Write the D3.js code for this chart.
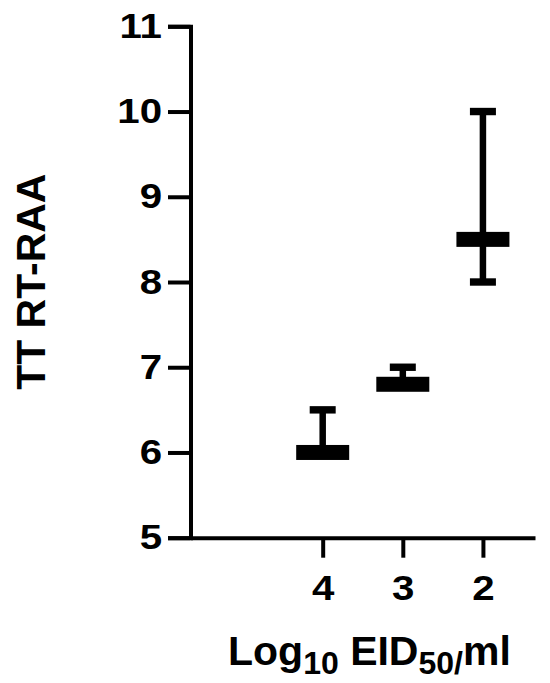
<!DOCTYPE html>
<html>
<head>
<meta charset="utf-8">
<script src="https://d3js.org/d3.v7.min.js"></script>
<style>
  body { margin: 0; background: #fff; }
  svg { display: block; }
  text { font-family: Arial, 'Liberation Sans', sans-serif; font-weight: bold; fill: #000; }
</style>
</head>
<body>
<svg id="chart" width="550" height="683"></svg>
<script>
// groups on the x axis (first slot is an empty spacer, as in the original)
const groups = ['', '4', '3', '2']
const shownGroups = ['4', '3', '2']
// median with range
const medians = [6.0, 6.8, 8.5]
const mins = [6.0, 6.8, 8.0]
const maxs = [6.5, 7.0, 10.0]
const yTicks = [5, 6, 7, 8, 9, 10, 11]

const svg = d3.select('#chart')
const stretch = 1.15 // tick digits in the original are a bit wide

const x = d3.scalePoint().domain(groups).range([190.5, 535]).padding(0.65)
const y = d3.scaleLinear().domain([5, 11]).range([537.7, 26.3])

// y axis
const yAxis = svg.append('g').attr('transform', 'translate(190.5,0)')
  .call(d3.axisLeft(y).tickValues(yTicks).tickFormat(d3.format('d'))
    .tickSize(22.5).tickSizeOuter(22.5).tickPadding(6))
yAxis.select('.domain').attr('stroke-width', 4).attr('stroke-linejoin', 'miter')
yAxis.selectAll('.tick line').attr('stroke-width', 4)
yAxis.selectAll('.tick text').style('font-size', '35px')
  .attr('x', -28.5 / stretch).attr('transform', 'scale(' + stretch + ',1)')

// x axis
const xAxis = svg.append('g').attr('transform', 'translate(0,' + y(5) + ')')
  .call(d3.axisBottom(x).tickValues(shownGroups).tickSize(20).tickSizeOuter(0).tickPadding(17))
xAxis.select('.domain').attr('stroke-width', 4)
xAxis.selectAll('.tick line').attr('stroke-width', 4)
xAxis.selectAll('.tick text').style('font-size', '35px')
  .attr('transform', 'scale(' + stretch + ',1)')
svg.selectAll('.domain').attr('fill', 'none')
svg.selectAll('g').attr('font-family', null)

// range whiskers
const data = shownGroups.map((g, i) => ({ g: g, med: medians[i], lo: mins[i], hi: maxs[i] }))
const marks = svg.append('g')
marks.selectAll('line.stem').data(data).enter().append('line')
  .attr('class', 'stem')
  .attr('x1', d => x(d.g)).attr('x2', d => x(d.g))
  .attr('y1', d => y(d.lo)).attr('y2', d => y(d.hi))
  .attr('stroke', '#000').attr('stroke-width', 6.5)
marks.selectAll('rect.capHi').data(data).enter().append('rect')
  .attr('x', d => x(d.g) - 13).attr('y', d => y(d.hi) - 3.7)
  .attr('width', 26).attr('height', 7.4).attr('fill', '#000')
marks.selectAll('rect.capLo').data(data).enter().append('rect')
  .attr('x', d => x(d.g) - 13).attr('y', d => y(d.lo) - 3.7)
  .attr('width', 26).attr('height', 7.4).attr('fill', '#000')
// median bars
marks.selectAll('rect.med').data(data).enter().append('rect')
  .attr('x', d => x(d.g) - 26.5).attr('y', d => y(d.med) - 7.5)
  .attr('width', 53).attr('height', 15).attr('fill', '#000')

// y title
svg.append('text')
  .attr('transform', 'translate(45,281.7) rotate(-90)')
  .attr('text-anchor', 'middle')
  .style('font-size', '41px')
  .text('TT RT-RAA')

// x title with subscripts
const xt = svg.append('text')
  .attr('x', 228).attr('y', 665)
  .style('font-size', '41px')
xt.append('tspan').text('Log')
xt.append('tspan').style('font-size', '32px').attr('dy', 9).text('10')
xt.append('tspan').attr('dy', -9).text(' EID')
xt.append('tspan').style('font-size', '32px').attr('dy', 9).text('50/')
xt.append('tspan').attr('dy', -9).text('ml')
</script>
</body>
</html>
